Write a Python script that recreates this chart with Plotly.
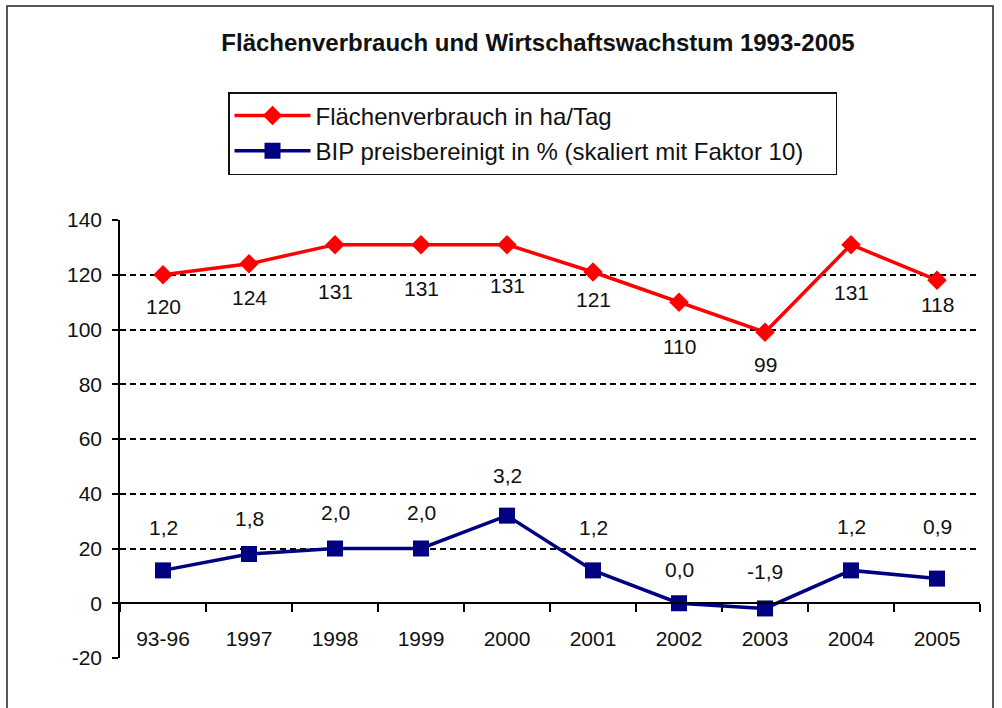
import plotly.graph_objects as go

# ---- data ----
categories = ["93-96", "1997", "1998", "1999", "2000", "2001", "2002", "2003", "2004", "2005"]
flaeche = [120, 124, 131, 131, 131, 121, 110, 99, 131, 118]
bip_scaled = [12, 18, 20, 20, 32, 12, 0, -1.9, 12, 9]
bip_labels = ["1,2", "1,8", "2,0", "2,0", "3,2", "1,2", "0,0", "-1,9", "1,2", "0,9"]
y_ticks = [-20, 0, 20, 40, 60, 80, 100, 120, 140]
y_ticktext = ["-20", "0", "20", "40", "60", "80", "100", "120", "140"]

# ---- styling ----
RED = "#FF0000"
NAVY = "#000080"
FONT = "Liberation Sans, Arial, sans-serif"
TXT = "#111111"
red_label_shift = [32, 34, 47, 44, 41, 27, 44, 32, 48, 24]
blue_label_shift = [43, 35, 36, 36, 40, 43, 34, 37, 44, 52]

L, R, T, B = 120, 22, 220, 50
W, H = 1002, 708
pw, ph = W - L - R, H - T - B
PAD = "\u00a0" * 4

fig = go.Figure()
fig.add_trace(go.Scatter(
    x=categories, y=flaeche, mode="lines+markers",
    name="Flächenverbrauch in ha/Tag",
    line=dict(color=RED, width=3.5),
    marker=dict(symbol="diamond", size=15, color=RED),
    legendgroup="a",
))
fig.add_trace(go.Scatter(
    x=categories, y=bip_scaled, mode="lines+markers",
    name="BIP preisbereinigt in % (skaliert mit Faktor 10)" + PAD,
    line=dict(color=NAVY, width=3.5),
    marker=dict(symbol="square", size=16, color=NAVY),
    legendgroup="b",
))

annotations = []
for i, (v, s) in enumerate(zip(flaeche, red_label_shift)):
    annotations.append(dict(x=i, y=v, xref="x", yref="y", text=str(v), showarrow=False,
                            yshift=-s, font=dict(family=FONT, size=21, color=TXT)))
for i, (v, t, s) in enumerate(zip(bip_scaled, bip_labels, blue_label_shift)):
    annotations.append(dict(x=i, y=v, xref="x", yref="y", text=t, showarrow=False,
                            yshift=s, font=dict(family=FONT, size=21, color=TXT)))

fig.update_layout(
    width=W, height=H,
    margin=dict(l=L, r=R, t=T, b=B),
    paper_bgcolor="white", plot_bgcolor="white",
    font=dict(family=FONT, size=21, color=TXT),
    title=dict(text="<b>Flächenverbrauch und Wirtschaftswachstum 1993-2005</b>",
               x=538 / W, xanchor="center", xref="container",
               y=1 - 43 / H, yanchor="middle", yref="container",
               font=dict(family=FONT, size=24, color=TXT)),
    legend=dict(x=(228 - L) / pw, y=(H - B - 92) / ph, xanchor="left", yanchor="top",
                bordercolor="#111111", borderwidth=1.5, bgcolor="white",
                font=dict(family=FONT, size=24, color=TXT),
                traceorder="grouped", tracegroupgap=1, itemwidth=76),
    showlegend=True,
    annotations=annotations,
    xaxis=dict(type="category", categoryorder="array", categoryarray=categories,
               range=[-0.5, len(categories) - 0.5],
               anchor="free", position=20 / 160,
               showline=True, linecolor="#000000", linewidth=1.5,
               ticks="outside", tickson="boundaries", ticklen=8, tickcolor="#000000", tickwidth=1.5,
               showgrid=False, zeroline=False, ticklabelstandoff=17,
               tickfont=dict(family=FONT, size=21, color=TXT)),
    yaxis=dict(range=[-20, 140], tickvals=y_ticks, ticktext=y_ticktext,
               showgrid=True, gridcolor="#000000", gridwidth=1.5, griddash="6px,4px",
               showline=True, linecolor="#000000", linewidth=1.5,
               ticks="outside", ticklen=6, tickcolor="#000000", tickwidth=1.5,
               zeroline=False, ticklabelstandoff=6,
               tickfont=dict(family=FONT, size=21, color=TXT)),
    shapes=[dict(type="rect", xref="paper", yref="paper",
                 x0=(7 - L) / pw, x1=(993 - L) / pw,
                 y0=(H - B - 720) / ph, y1=(H - B - 6) / ph,
                 line=dict(color="#222222", width=1.5), fillcolor="rgba(0,0,0,0)", layer="below")],
)

fig.write_html("out.html", config={"displayModeBar": False},
               post_script="document.body.style.margin='0px';")
